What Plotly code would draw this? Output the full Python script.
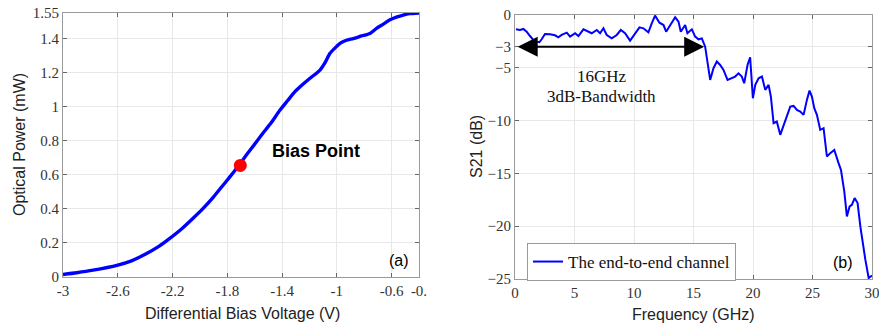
import plotly.graph_objects as go

# ---- Panel (a) data ----
bias_v = [-3.0, -2.9, -2.78, -2.6, -2.5, -2.41, -2.3, -2.22, -2.13, -2.05, -1.98, -1.9, -1.84, -1.78,
          -1.72, -1.67, -1.6, -1.54, -1.48, -1.415, -1.36, -1.306, -1.25, -1.196, -1.123, -1.085,
          -1.05, -1.0, -0.977, -0.93, -0.88, -0.82, -0.758, -0.71, -0.66, -0.612, -0.56, -0.515,
          -0.47, -0.4]
power_mw = [0.015, 0.025, 0.04, 0.07, 0.095, 0.129, 0.18, 0.227, 0.285, 0.345, 0.40, 0.471, 0.53,
            0.589, 0.65, 0.706, 0.78, 0.844, 0.905, 0.98, 1.035, 1.088, 1.13, 1.167, 1.215, 1.26,
            1.313, 1.355, 1.372, 1.39, 1.40, 1.415, 1.43, 1.46, 1.485, 1.51, 1.527, 1.538, 1.546, 1.55]
bias_point_v = [-1.705]
bias_point_p = [0.655]
xa_tickvals = [-3, -2.6, -2.2, -1.8, -1.4, -1, -0.6, -0.4]
xa_ticktext = ["-3", "-2.6", "-2.2", "-1.8", "-1.4", "-1", "-0.6", "-0."]
ya_tickvals = [0, 0.2, 0.4, 0.6, 0.8, 1, 1.2, 1.4, 1.55]
ya_ticktext = ["0", "0.2", "0.4", "0.6", "0.8", "1", "1.2", "1.4", "1.55"]

# ---- Panel (b) data ----
freq_ghz = [0.08, 0.42, 0.7, 0.98, 1.26, 1.54, 1.82, 2.05, 2.24, 2.52, 2.94, 3.36, 3.64, 3.92, 4.35,
            4.63, 5.05, 5.33, 5.75, 6.17, 6.45, 6.87, 7.15, 7.43, 7.71, 8.13, 8.55, 8.89, 9.25, 9.67,
            10.09, 10.46, 10.79, 11.21, 11.49, 11.77, 12.14, 12.48, 12.70, 13.04, 13.46, 13.74, 13.93,
            14.30, 14.49, 14.86, 15.14, 15.42, 15.70, 15.98, 16.18, 16.40, 16.68, 16.96, 17.24, 17.52,
            17.86, 18.22, 18.50, 18.78, 19.06, 19.26, 19.54, 19.76, 19.99, 20.19, 20.47, 20.75, 21.03,
            21.31, 21.50, 21.73, 22.0, 22.29, 22.57, 22.90, 23.13, 23.41, 23.69, 23.97, 24.25, 24.53,
            24.75, 24.95, 25.15, 25.37, 25.65, 25.93, 26.21, 26.49, 26.83, 27.19, 27.39, 27.67, 27.89,
            28.12, 28.31, 28.54, 28.79, 29.02, 29.24, 29.44, 29.72, 30.0]
s21_db = [-1.36, -1.42, -1.32, -1.58, -1.99, -2.36, -2.52, -2.58, -2.30, -1.80, -1.83, -1.92, -2.11,
          -1.89, -1.67, -2.05, -1.73, -1.99, -1.36, -1.58, -1.73, -1.42, -1.73, -1.26, -1.89, -2.21,
          -1.89, -1.42, -1.73, -2.43, -1.73, -1.17, -1.26, -1.64, -0.79, -0.06, -0.73, -0.95, -1.58,
          -0.95, -0.22, -0.63, -1.58, -0.95, -1.73, -1.36, -2.05, -2.30, -2.21, -3.0, -4.73, -6.15,
          -5.04, -4.41, -4.73, -5.20, -6.15, -5.99, -5.83, -5.52, -5.83, -6.46, -4.73, -4.00, -7.88,
          -6.62, -5.99, -5.83, -7.09, -6.62, -7.72, -10.25, -10.09, -11.35, -10.40, -9.46, -8.67,
          -8.61, -8.98, -9.14, -9.46, -8.04, -7.16, -7.72, -8.83, -9.46, -10.88, -10.72, -13.40,
          -13.08, -12.77, -14.03, -14.66, -16.71, -19.07, -18.13, -17.97, -17.34, -17.81, -20.02,
          -21.91, -23.17, -24.91, -24.68]
xb_tickvals = [0, 5, 10, 15, 20, 25, 30]
yb_tickvals = [0, -3, -5, -10, -15, -20, -25]
bandwidth_ghz = [0.1, 15.9]

serif = "Liberation Serif, Times New Roman, serif"
sans = "Liberation Sans, Arial, sans-serif"
blue = "#0000ff"

# The page body margin is removed by a small post-script, so the figure fills the window.
W, H = 879, 327


def px(x):
    return x / W


def py(y):
    return 1 - y / H


fig = go.Figure()
fig.add_trace(go.Scatter(x=bias_v, y=power_mw, mode="lines",
                         line=dict(color=blue, width=3.4, shape="spline", smoothing=0.6),
                         xaxis="x", yaxis="y", showlegend=False))
fig.add_trace(go.Scatter(x=bias_point_v, y=bias_point_p, mode="markers",
                         marker=dict(color="#ff0000", size=13), xaxis="x", yaxis="y", showlegend=False))
fig.add_trace(go.Scatter(x=freq_ghz, y=s21_db, mode="lines", line=dict(color=blue, width=2),
                         xaxis="x2", yaxis="y2", name="The end-to-end channel", showlegend=True))

axis_common = dict(showline=True, linecolor="#9a9a9a", linewidth=1, mirror="ticks", ticks="inside",
                   ticklen=4, tickcolor="#666", showgrid=True, gridcolor="#e8e8e8", zeroline=False,
                   automargin=False, ticklabeloverflow="allow",
                   tickfont=dict(family=serif, size=15, color="#333"))

fig.update_layout(
    width=W, height=H, margin=dict(l=0, r=0, t=0, b=0, autoexpand=False),
    paper_bgcolor="white", plot_bgcolor="white",
    xaxis=dict(domain=[px(63), px(419)], range=[-3, -0.4], tickmode="array",
               tickvals=xa_tickvals, ticktext=xa_ticktext, anchor="y", **axis_common),
    yaxis=dict(domain=[py(277), py(13)], range=[0, 1.55], tickmode="array",
               tickvals=ya_tickvals, ticktext=ya_ticktext, anchor="x", **axis_common),
    xaxis2=dict(domain=[px(515), px(872)], range=[0, 30], tickmode="array", tickvals=xb_tickvals,
                anchor="y2", **axis_common),
    yaxis2=dict(domain=[py(279), py(15)], range=[-25, 0], tickmode="array", tickvals=yb_tickvals,
                anchor="x2", **axis_common),
    legend=dict(x=px(527), y=py(243), xanchor="left", yanchor="top", bgcolor="white",
                bordercolor="#9a9a9a", borderwidth=1, font=dict(family=serif, size=17, color="#111"),
                itemwidth=30, tracegroupgap=0),
)

title_font = dict(family=sans, size=16, color="#222")
title_kw = dict(xref="paper", yref="paper", showarrow=False, font=title_font,
                xanchor="center", yanchor="middle")
fig.add_annotation(x=px(20), y=py(145), text="Optical Power (mW)", textangle=-90, **title_kw)
fig.add_annotation(x=px(242), y=py(313), text="Differential Bias Voltage (V)", **title_kw)
fig.add_annotation(x=px(476), y=py(147), text="S21 (dB)", textangle=-90, **title_kw)
fig.add_annotation(x=px(693), y=py(314), text="Frequency (GHz)", **title_kw)

fig.add_annotation(x=-1.49, y=0.74, xref="x", yref="y", text="<b>Bias Point</b>", showarrow=False,
                   xanchor="left", yanchor="middle", font=dict(family=sans, size=18, color="black"))
fig.add_annotation(x=-0.46, y=0.035, xref="x", yref="y", text="(a)", showarrow=False,
                   xanchor="right", yanchor="bottom", font=dict(family=sans, size=16, color="black"))
fig.add_annotation(x=28.6, y=-24.4, xref="x2", yref="y2", text="(b)", showarrow=False,
                   xanchor="right", yanchor="bottom", font=dict(family=sans, size=16, color="black"))
fig.add_annotation(x=bandwidth_ghz[1], y=-3, ax=bandwidth_ghz[0], ay=-3, xref="x2", yref="y2",
                   axref="x2", ayref="y2", text="", showarrow=True, arrowside="end+start",
                   arrowhead=2, startarrowhead=2, arrowsize=2, startarrowsize=2,
                   arrowwidth=2, arrowcolor="black")
fig.add_annotation(x=7.3, y=-5.83, xref="x2", yref="y2", text="16GHz", showarrow=False,
                   xanchor="center", yanchor="middle", font=dict(family=serif, size=17, color="#111"))
fig.add_annotation(x=7.3, y=-7.72, xref="x2", yref="y2", text="3dB-Bandwidth", showarrow=False,
                   xanchor="center", yanchor="middle", font=dict(family=serif, size=17, color="#111"))

fig.write_html("out.html", config={"displayModeBar": False},
               post_script="document.body.style.margin='0';")
